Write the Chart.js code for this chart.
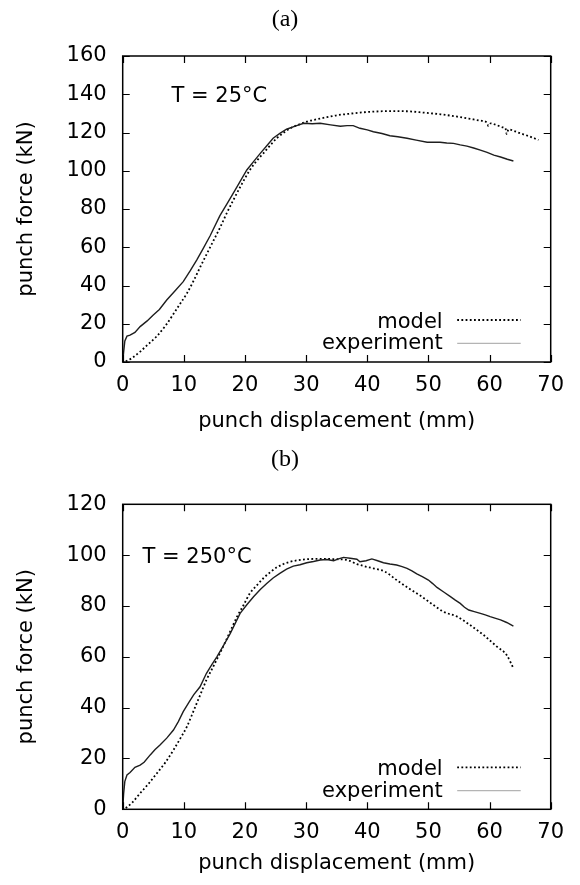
<!DOCTYPE html>
<html>
<head>
<meta charset="utf-8">
<script src="https://cdn.jsdelivr.net/npm/chart.js@4"></script>
<style>
  body { margin: 0; background: #fff; }
  canvas { display: block; }
</style>
</head>
<body>
<canvas id="chartA" width="580" height="440"></canvas>
<canvas id="chartB" width="580" height="445"></canvas>
<script>
// shared axis ticks
const xTicks = [0, 10, 20, 30, 40, 50, 60, 70];
const yTicksA = [0, 20, 40, 60, 80, 100, 120, 140, 160];
const yTicksB = [0, 20, 40, 60, 80, 100, 120];
const seriesNames = ['model', 'experiment'];

// (a) T = 25°C
const dispModelA = [0.5, 1.5, 2.85, 4, 5.5, 7, 8.2, 9.3, 10.5, 11.6,
  12.7, 13.8, 14.9, 16, 17, 18.1, 19.3, 20.8, 22, 23,
  24.1, 25.2, 26.3, 27.4, 28.7, 30.1, 31.7, 33.4, 35, 36.8,
  38.8, 41, 43.7, 46.5, 49.2, 52, 54.7, 56.6, 58.5, 59.6,
  59.8, 60.2, 61.2, 62.3, 62.6, 62.8, 63.1, 64, 65, 66.5, 68];
const forceModelA = [0.4, 2, 5.4, 8.8, 13.2, 19, 24.6, 30, 35.9, 42.5,
  49.8, 56.8, 63.8, 70.8, 77.7, 84.7, 92, 100.4, 105.5, 109.1,
  113.2, 117, 119.8, 122.2, 124, 125.7, 126.9, 128, 129, 129.7,
  130.4, 130.9, 131.2, 131.1, 130.4, 129.5, 128.3, 127.3, 126.2, 125.1,
  123.4, 124.8, 123.8, 122.6, 122.2, 119.2, 121.6, 120.8, 119.6, 118, 116.1];
const dispExpA = [0, 0.15, 0.35, 0.7, 1.2, 2, 2.85, 4, 5, 6,
  7.2, 8.5, 9.9, 11, 12.1, 13.2, 14.3, 15.9, 17.2, 18.5,
  20.3, 21.4, 22.5, 23.6, 24.6, 25.7, 26.8, 28.2, 29.6, 31,
  32.3, 34, 35.6, 36.7, 37.7, 38.8, 40, 41, 42.4, 43.7,
  45, 46.5, 48, 49.8, 51.9, 53, 54.1, 55.2, 56.3, 57.4,
  58.5, 59.6, 60.7, 61.8, 62.9, 63.9];
const forceExpA = [0, 5, 11, 13.5, 14, 15.5, 18.5, 21.5, 24.6, 27.5,
  32.4, 37, 42, 47.5, 53.3, 59.5, 66, 76.5, 83.5, 90.5,
  100.4, 104.8, 109.1, 113.2, 117, 119.5, 121.7, 123.3, 124.8, 124.6,
  124.8, 124, 123.3, 123.6, 123.6, 122.2, 121.4, 120.4, 119.5, 118.3,
  117.8, 117, 116, 114.9, 114.9, 114.5, 114.3, 113.5, 112.9, 111.9,
  110.8, 109.6, 108.2, 107.2, 106, 105.1];

// (b) T = 250°C
const dispModelB = [0.5, 1.5, 2.85, 4.2, 5.6, 7, 8.3, 9.4, 10.5, 11.3,
  12.1, 12.9, 13.7, 14.8, 15.9, 17.3, 18.7, 19.8, 20.8, 21.9,
  23, 24.1, 25.2, 26.3, 27.4, 28.7, 30.1, 31.7, 33.4, 35,
  36.7, 38.3, 39.6, 41, 42.9, 44.8, 47, 48.9, 50.8, 52.5,
  54.7, 56.8, 59, 61.2, 62.8, 63.9];
const forceModelB = [0.5, 2.5, 6.3, 10, 14.2, 18.5, 23.3, 27.8, 32.5, 37,
  41.7, 46.3, 50.9, 56.1, 61.4, 68.5, 75.8, 80.5, 85, 88,
  90.9, 93.2, 95.2, 96.5, 97.4, 98, 98.4, 98.5, 98.5, 98.4,
  98.1, 96.5, 95.6, 94.8, 93.5, 90.2, 86.6, 83.7, 80.4, 77.7,
  75.8, 72.5, 68.6, 64, 60.7, 55.5];
const dispExpB = [0, 0.15, 0.35, 0.7, 1.2, 2, 2.85, 3.5, 4.5, 5.3,
  6.1, 7.2, 8.3, 9.1, 9.9, 10.8, 11.6, 12.65, 13.7, 14.6,
  15.4, 16.5, 17.6, 19.2, 20.3, 21.4, 22.5, 23.6, 24.6, 25.7,
  26.8, 27.9, 29, 30.1, 31.2, 32.3, 33.4, 34.5, 35.3, 36.1,
  37.2, 38.3, 38.8, 39.8, 40.75, 41.7, 42.65, 43.7, 44.8, 45.7,
  46.5, 47.3, 48.1, 49, 50, 50.7, 51.4, 52.5, 53.6, 54.4,
  55.2, 55.9, 56.6, 57.5, 58.5, 59.3, 60.1, 61, 61.8, 62.8, 63.9];
const forceExpB = [0, 6, 11, 13.5, 14.5, 16.5, 17.4, 18.5, 21.4, 23.5,
  25.3, 28, 31.2, 34.5, 38.4, 42, 45, 48.2, 53.5, 57,
  60, 64.5, 69.2, 77.1, 80.5, 83.6, 86.5, 88.9, 91, 92.8,
  94.5, 95.7, 96.2, 97, 97.5, 98.1, 98.3, 97.8, 98.5, 99.1,
  98.8, 98.4, 97.4, 97.8, 98.5, 97.8, 97, 96.5, 96.1, 95.5,
  94.8, 93.8, 92.6, 91.5, 90.2, 88.8, 87.3, 85.5, 83.7, 82.3,
  81, 79.5, 78.4, 77.8, 77.1, 76.5, 75.8, 75.1, 74.5, 73.5, 72.1];

const FONT = 'DejaVu Sans';
const MODEL_DASH = [1.8, 2.4];
const EXP_LEGEND_COLOR = '#b4b4b4';

function pairs(xs, ys) {
  return xs.map((x, i) => ({ x: x, y: ys[i] }));
}

// gnuplot-like frame: border, inward mirror ticks, panel title, label, legend
const framePlugin = {
  id: 'frame',
  afterDatasetsDraw(chart, args, opts) {
    const ctx = chart.ctx;
    const a = chart.chartArea;
    const xs = chart.scales.x, ys = chart.scales.y;
    ctx.save();
    ctx.strokeStyle = '#000';
    ctx.lineWidth = 1.2;
    ctx.beginPath();
    xs.ticks.forEach(t => {
      const px = Math.round(xs.getPixelForValue(t.value)) + 0.5;
      ctx.moveTo(px, a.bottom); ctx.lineTo(px, a.bottom - 7);
      ctx.moveTo(px, a.top); ctx.lineTo(px, a.top + 7);
    });
    ys.ticks.forEach(t => {
      const py = Math.round(ys.getPixelForValue(t.value)) + 0.5;
      ctx.moveTo(a.left, py); ctx.lineTo(a.left + 7, py);
      ctx.moveTo(a.right, py); ctx.lineTo(a.right - 7, py);
    });
    ctx.stroke();
    ctx.lineWidth = 1.5;
    ctx.strokeRect(a.left, a.top, a.right - a.left, a.bottom - a.top);

    ctx.fillStyle = '#000';
    ctx.font = '24px "Liberation Serif"';
    ctx.textAlign = 'center';
    ctx.textBaseline = 'middle';
    ctx.fillText(opts.title, 285, opts.titleY);

    ctx.font = '21px "' + FONT + '"';
    ctx.textAlign = 'left';
    ctx.textBaseline = 'alphabetic';
    ctx.fillText(opts.label, a.left + opts.labelDx, a.top + opts.labelDy);

    // legend
    const tx = a.right - 108;
    const l0 = a.right - 93.5, l1 = a.right - 30;
    ctx.textAlign = 'right';
    ctx.fillText(seriesNames[0], tx, a.bottom - 34);
    ctx.fillText(seriesNames[1], tx, a.bottom - 12.7);
    ctx.lineWidth = 1.8;
    ctx.setLineDash(MODEL_DASH);
    ctx.beginPath();
    ctx.moveTo(l0, a.bottom - 42); ctx.lineTo(l1, a.bottom - 42);
    ctx.stroke();
    ctx.setLineDash([]);
    ctx.strokeStyle = EXP_LEGEND_COLOR;
    ctx.lineWidth = 1.2;
    ctx.beginPath();
    ctx.moveTo(l0, a.bottom - 18.7); ctx.lineTo(l1, a.bottom - 18.7);
    ctx.stroke();
    ctx.restore();
  }
};

function makeChart(id, cfg) {
  const tickFont = { family: FONT, size: 21 };
  return new Chart(document.getElementById(id), {
    type: 'line',
    data: {
      datasets: [
        {
          label: seriesNames[1],
          data: pairs(cfg.expX, cfg.expY),
          borderColor: '#1e1e1e',
          borderWidth: 1.4,
          pointRadius: 0,
          tension: 0
        },
        {
          label: seriesNames[0],
          data: pairs(cfg.modX, cfg.modY),
          borderColor: '#000',
          borderWidth: 1.8,
          borderDash: MODEL_DASH,
          pointRadius: 0,
          cubicInterpolationMode: 'monotone'
        }
      ]
    },
    options: {
      responsive: false,
      animation: false,
      devicePixelRatio: 1,
      layout: { padding: { top: cfg.padTop, right: 29.3, left: 0, bottom: 0 } },
      plugins: {
        legend: { display: false },
        tooltip: { enabled: false },
        frame: cfg.frame
      },
      scales: {
        x: {
          type: 'linear',
          min: 0, max: 70,
          afterBuildTicks: s => { s.ticks = xTicks.map(v => ({ value: v })); },
          afterFit: s => { s.height = cfg.xHeight; },
          grid: { display: false, drawTicks: false },
          border: { display: false },
          ticks: { font: tickFont, color: '#000', padding: 10.5, maxRotation: 0 },
          title: {
            display: true,
            text: 'punch displacement (mm)',
            font: tickFont,
            color: '#000',
            padding: { top: 0, bottom: cfg.xTitlePad }
          }
        },
        y: {
          type: 'linear',
          min: 0, max: cfg.yTicks[cfg.yTicks.length - 1],
          afterBuildTicks: s => { s.ticks = cfg.yTicks.map(v => ({ value: v })); },
          afterFit: s => { s.width = 122.7; },
          grid: { display: false, drawTicks: false },
          border: { display: false },
          ticks: { font: tickFont, color: '#000', padding: 16 },
          title: {
            display: true,
            text: 'punch force (kN)',
            font: tickFont,
            color: '#000',
            padding: { top: 13.8, bottom: 0 }
          }
        }
      }
    },
    plugins: [framePlugin]
  });
}

makeChart('chartA', {
  expX: dispExpA, expY: forceExpA, modX: dispModelA, modY: forceModelA,
  yTicks: yTicksA, padTop: 56, xHeight: 78, xTitlePad: 5.4,
  frame: { title: '(a)', titleY: 19.5, label: 'T = 25°C', labelDx: 48.8, labelDy: 46 }
});

makeChart('chartB', {
  expX: dispExpB, expY: forceExpB, modX: dispModelB, modY: forceModelB,
  yTicks: yTicksB, padTop: 64.3, xHeight: 75.7, xTitlePad: 8.7,
  frame: { title: '(b)', titleY: 20, label: 'T = 250°C', labelDx: 19.9, labelDy: 59 }
});
</script>
</body>
</html>
